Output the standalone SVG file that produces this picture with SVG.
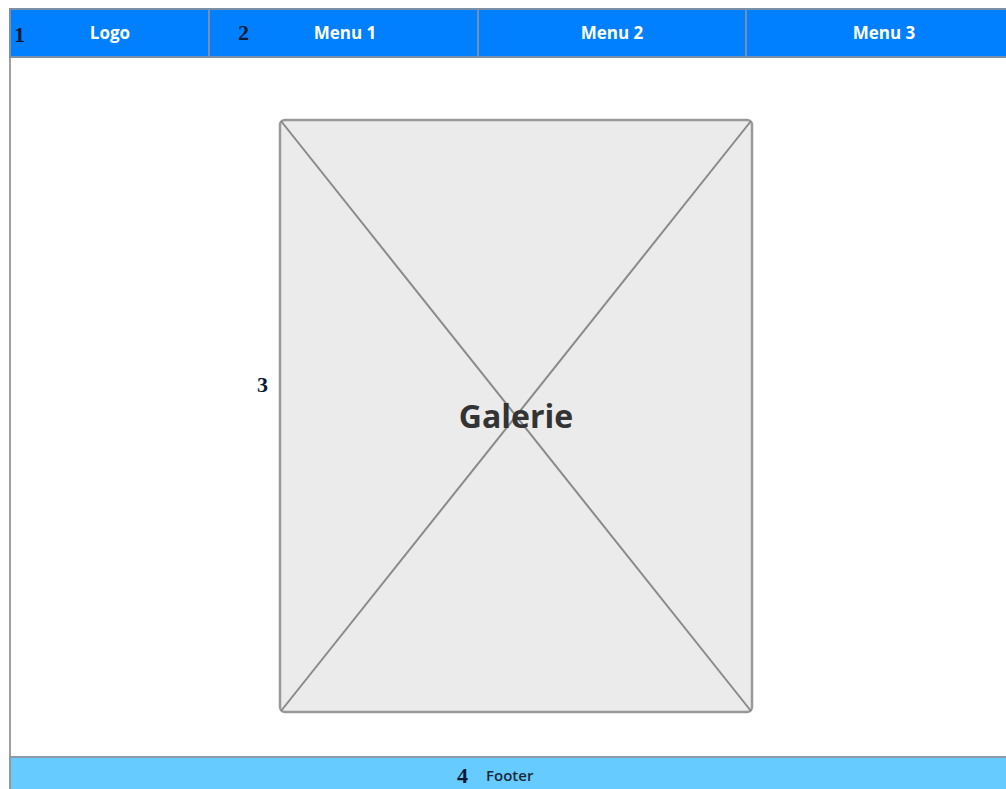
<svg xmlns="http://www.w3.org/2000/svg" width="1006" height="789" viewBox="0 0 1006 789">
<style>
.hdr{fill:#0080ff;stroke:#7a8fa8;stroke-width:2}
.menu{font-family:"Open Sans","Liberation Sans",sans-serif;font-weight:bold;font-size:17px;fill:#ffffff;text-anchor:middle}
.num{font-family:"Liberation Serif",serif;font-weight:bold;font-size:22px;fill:#0a1a33}
.line{stroke:#8a8a8a;stroke-width:2;fill:none}
</style>
<rect width="1006" height="789" fill="#ffffff"/>
<line x1="10" y1="57" x2="10" y2="757" stroke="#a0a0a0" stroke-width="2"/>
<g id="header">
<rect class="hdr" x="10" y="9" width="1000" height="48"/>
<line x1="209" y1="9" x2="209" y2="57" stroke="#7a8fa8" stroke-width="2"/>
<line x1="478" y1="9" x2="478" y2="57" stroke="#7a8fa8" stroke-width="2"/>
<line x1="746" y1="9" x2="746" y2="57" stroke="#7a8fa8" stroke-width="2"/>
</g>
<g id="logo">
<text class="num" x="14" y="42">1</text>
<text class="menu" x="110" y="39">Logo</text>
</g>
<g id="menu1">
<text class="num" x="238" y="40">2</text>
<text class="menu" x="345" y="39">Menu 1</text>
</g>
<g id="menu2">
<text class="menu" x="612" y="39">Menu 2</text>
</g>
<g id="menu3">
<text class="menu" x="884" y="39">Menu 3</text>
</g>
<g id="galerie">
<rect x="280" y="120" width="472" height="592" rx="5" fill="#ebebeb" stroke="#999999" stroke-width="2.5"/>
<line class="line" x1="281" y1="121" x2="751" y2="711"/>
<line class="line" x1="751" y1="121" x2="281" y2="711"/>
<text x="516" y="428" font-family="Open Sans,Liberation Sans,sans-serif" font-weight="bold" font-size="32" fill="#333333" text-anchor="middle">Galerie</text>
<text class="num" x="257" y="392">3</text>
</g>
<g id="footer">
<rect x="10" y="757" width="1000" height="40" fill="#66ccff" stroke="#8a9aaa" stroke-width="2"/>
<text class="num" x="457" y="783">4</text>
<text x="486" y="781" font-family="Open Sans,Liberation Sans,sans-serif" font-weight="600" font-size="15" fill="#1a2a3a">Footer</text>
</g>
<g id="connectors"/>
</svg>
